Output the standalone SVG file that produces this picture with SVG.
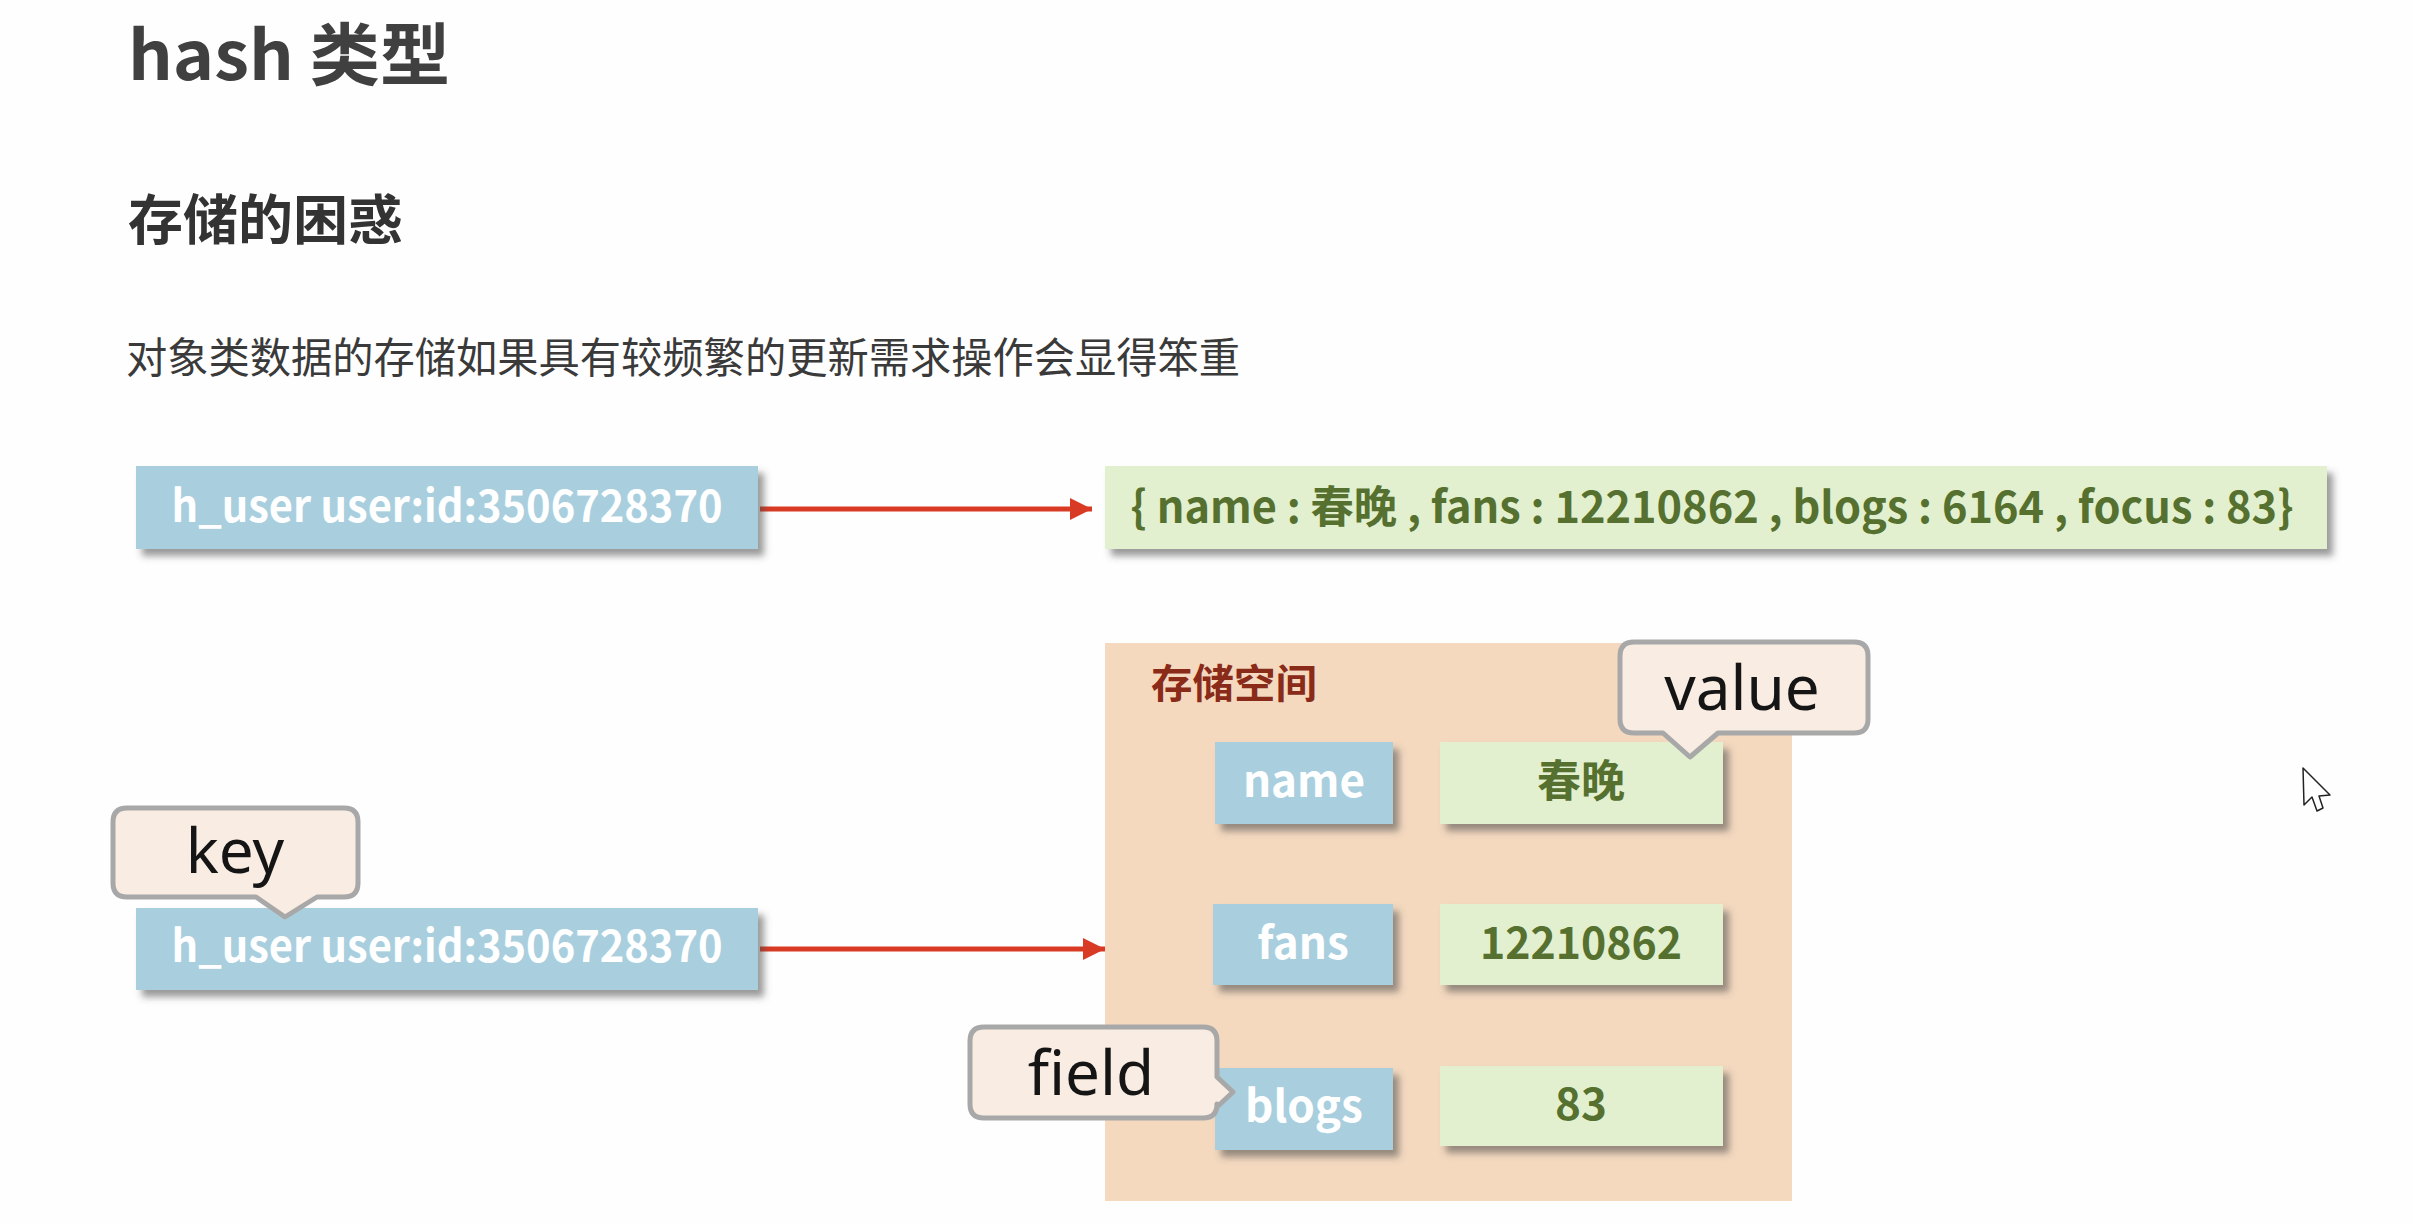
<svg xmlns="http://www.w3.org/2000/svg" width="2414" height="1224" viewBox="0 0 2414 1224">
<style>
  .t { font-family: "Noto Sans CJK SC", "Noto Sans", sans-serif; }
  .h1 { font-size: 68px; font-weight: 700; fill: #404040; }
  .h2 { font-size: 54px; font-weight: 700; fill: #333333; }
  .body { font-size: 42px; font-weight: 400; fill: #3a3a3a; }
  .kbox { fill: #a9cfdf; filter: url(#sh); }
  .vbox { fill: #e2f0cf; filter: url(#sh); }
  .klbl { font-size: 44px; font-weight: 700; fill: #ffffff; text-anchor: middle; }
  .vlbl { font-size: 44px; font-weight: 700; fill: #56702f; text-anchor: middle; }
  .store { fill: #f4d9bf; }
  .storelbl { font-size: 40px; font-weight: 700; fill: #8a2a18; }
  .call { fill: #f9ece2; stroke: #a8a8a8; stroke-width: 5; stroke-linejoin: round; }
  .calltxt { font-family: "Noto Sans", "Liberation Sans", sans-serif; font-size: 62px; fill: #151515; text-anchor: middle; }
  .conn { stroke: #d83a24; stroke-width: 5; fill: none; }
</style>
<defs>
  <filter id="sh" x="-10%" y="-20%" width="130%" height="160%">
    <feDropShadow dx="6" dy="7" stdDeviation="3.5" flood-color="#4a4a4a" flood-opacity="0.55"/>
  </filter>
  <marker id="arr" viewBox="0 0 22 22" refX="22" refY="11" markerWidth="22" markerHeight="22" markerUnits="userSpaceOnUse" orient="auto">
    <path d="M0,0 L22,11 L0,22 Z" fill="#d83a24"/>
  </marker>
</defs>
<rect width="2414" height="1224" fill="#fefefe"/>

<g id="titles">
  <text class="t h1" x="128" y="80" textLength="322" lengthAdjust="spacingAndGlyphs">hash 类型</text>
  <text class="t h2" x="128" y="240" textLength="275" lengthAdjust="spacingAndGlyphs">存储的困惑</text>
  <text class="t body" x="126" y="373" textLength="1114" lengthAdjust="spacingAndGlyphs">对象类数据的存储如果具有较频繁的更新需求操作会显得笨重</text>
</g>

<g id="connectors">
  <line class="conn" x1="760" y1="509" x2="1092" y2="509" marker-end="url(#arr)"/>
  <line class="conn" x1="760" y1="949" x2="1105" y2="949" marker-end="url(#arr)"/>
</g>

<g id="top-key">
  <rect class="kbox" x="136" y="466" width="622" height="83"/>
  <text class="t klbl" x="447" y="522" textLength="551" lengthAdjust="spacingAndGlyphs">h_user user:id:3506728370</text>
</g>

<g id="top-value">
  <rect class="vbox" x="1105" y="466" width="1222" height="83"/>
  <text class="t vlbl" x="1712" y="523" textLength="1163" lengthAdjust="spacingAndGlyphs">{ name : 春晚 , fans : 12210862 , blogs : 6164 , focus : 83}</text>
</g>

<g id="bottom-key">
  <rect class="kbox" x="136" y="908" width="622" height="82"/>
  <text class="t klbl" x="447" y="962" textLength="551" lengthAdjust="spacingAndGlyphs">h_user user:id:3506728370</text>
</g>

<g id="storage">
  <rect class="store" x="1105" y="643" width="687" height="558"/>
  <text class="t storelbl" x="1151" y="698" textLength="166" lengthAdjust="spacingAndGlyphs">存储空间</text>
</g>

<g id="field-name">
  <rect class="kbox" x="1215" y="742" width="178" height="82"/>
  <text class="t klbl" x="1304" y="797">name</text>
</g>
<g id="value-name">
  <rect class="vbox" x="1440" y="742" width="283" height="82"/>
  <text class="t vlbl" x="1581" y="797">春晚</text>
</g>
<g id="field-fans">
  <rect class="kbox" x="1213" y="904" width="180" height="81"/>
  <text class="t klbl" x="1303" y="959">fans</text>
</g>
<g id="value-fans">
  <rect class="vbox" x="1440" y="904" width="283" height="81"/>
  <text class="t vlbl" x="1581" y="959" textLength="202" lengthAdjust="spacingAndGlyphs">12210862</text>
</g>
<g id="field-blogs">
  <rect class="kbox" x="1215" y="1068" width="178" height="82"/>
  <text class="t klbl" x="1304" y="1122">blogs</text>
</g>
<g id="value-blogs">
  <rect class="vbox" x="1440" y="1066" width="283" height="80"/>
  <text class="t vlbl" x="1581" y="1120">83</text>
</g>

<g id="callout-value">
  <path class="call" d="M1634,642 H1854 Q1868,642 1868,656 V719 Q1868,733 1854,733 H1718 L1690,757 L1663,733 H1634 Q1620,733 1620,719 V656 Q1620,642 1634,642 Z"/>
  <text class="calltxt" x="1742" y="710">value</text>
</g>
<g id="callout-key">
  <path class="call" d="M127,808 H344 Q358,808 358,822 V883 Q358,897 344,897 H317 L285,917 L256,897 H127 Q113,897 113,883 V822 Q113,808 127,808 Z"/>
  <text class="calltxt" x="235" y="873">key</text>
</g>
<g id="callout-field">
  <path class="call" d="M984,1027 H1203 Q1217,1027 1217,1041 V1077 L1233,1092 L1217,1107 V1104 Q1217,1118 1203,1118 H984 Q970,1118 970,1104 V1041 Q970,1027 984,1027 Z"/>
  <text class="calltxt" x="1091" y="1095">field</text>
</g>

<path d="M2303,768 L2304,805 L2312,797 L2317,811 L2323,808 L2319,796 L2330,795 Z" fill="#ffffff" stroke="#222" stroke-width="1.5" stroke-linejoin="round"/>
</svg>
